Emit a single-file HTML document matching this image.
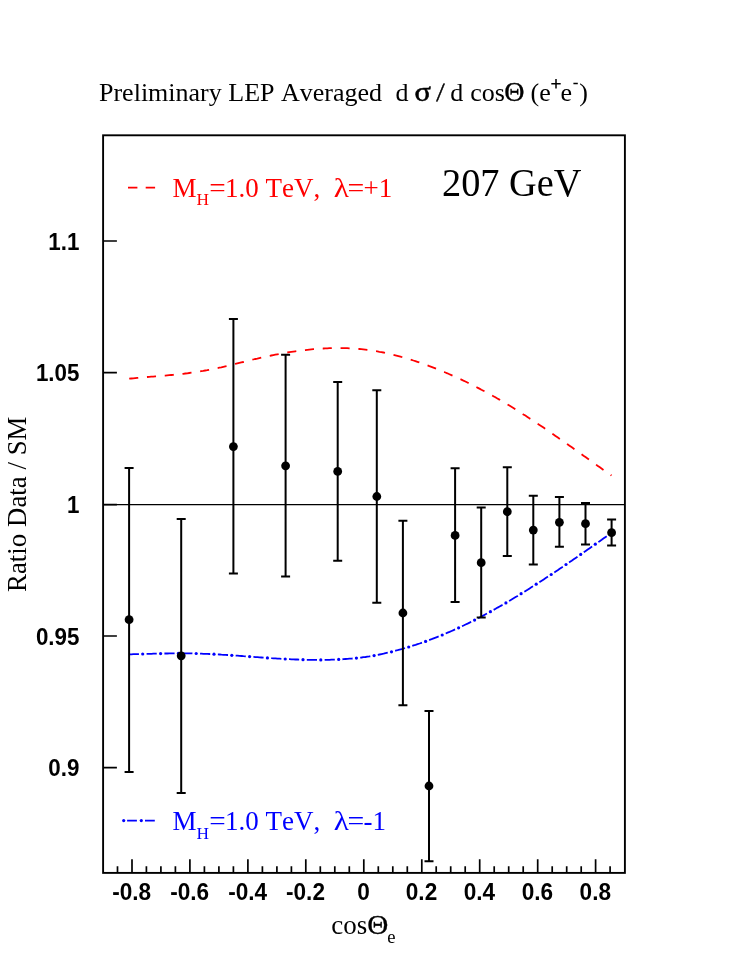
<!DOCTYPE html><html><head><meta charset="utf-8"><style>html,body{margin:0;padding:0;background:#fff}svg{display:block;will-change:transform}text{font-kerning:none}</style></head><body><svg width="741" height="959" viewBox="0 0 741 959">
<rect width="741" height="959" fill="#fff"/>
<rect x="103.1" y="135.3" width="521.8" height="737.6" fill="none" stroke="#000" stroke-width="1.9"/>
<path d="M117.5 872.9 v-6.7 M132.0 872.9 v-13.6 M146.4 872.9 v-6.7 M160.9 872.9 v-6.7 M175.4 872.9 v-6.7 M189.9 872.9 v-13.6 M204.4 872.9 v-6.7 M218.9 872.9 v-6.7 M233.4 872.9 v-6.7 M247.9 872.9 v-13.6 M262.4 872.9 v-6.7 M276.9 872.9 v-6.7 M291.4 872.9 v-6.7 M305.8 872.9 v-13.6 M320.3 872.9 v-6.7 M334.8 872.9 v-6.7 M349.3 872.9 v-6.7 M363.8 872.9 v-13.6 M378.3 872.9 v-6.7 M392.8 872.9 v-6.7 M407.3 872.9 v-6.7 M421.8 872.9 v-13.6 M436.2 872.9 v-6.7 M450.7 872.9 v-6.7 M465.2 872.9 v-6.7 M479.7 872.9 v-13.6 M494.2 872.9 v-6.7 M508.7 872.9 v-6.7 M523.2 872.9 v-6.7 M537.7 872.9 v-13.6 M552.2 872.9 v-6.7 M566.7 872.9 v-6.7 M581.2 872.9 v-6.7 M595.6 872.9 v-13.6 M610.1 872.9 v-6.7 M103.1 241.0 h13.8 M103.1 372.6 h13.8 M103.1 504.6 h13.8 M103.1 636.0 h13.8 M103.1 767.6 h13.8 " stroke="#000" stroke-width="1.7" fill="none"/>
<path d="M103.1 504.6 H624.9" stroke="#000" stroke-width="1.3"/>
<path d="M129.2 378.7 L131.2 378.5 L133.2 378.3 L135.2 378.1 L137.2 377.9 L139.2 377.7 L141.2 377.5 L143.2 377.4 L145.2 377.2 L147.2 377.0 L149.2 376.9 L151.2 376.7 L153.2 376.6 L155.2 376.4 L157.2 376.2 L159.2 376.1 L161.2 375.9 L163.2 375.7 L165.2 375.6 L167.2 375.4 L169.2 375.2 L171.2 375.0 L173.2 374.8 L175.2 374.6 L177.2 374.4 L179.2 374.2 L181.2 374.0 L183.2 373.8 L185.2 373.5 L187.2 373.3 L189.2 373.0 L191.2 372.7 L193.2 372.4 L195.2 372.2 L197.2 371.9 L199.2 371.5 L201.2 371.2 L203.2 370.9 L205.2 370.5 L207.2 370.2 L209.2 369.8 L211.3 369.4 L213.3 369.0 L215.3 368.6 L217.3 368.1 L219.3 367.7 L221.3 367.3 L223.3 366.8 L225.3 366.3 L227.3 365.9 L229.3 365.4 L231.3 364.9 L233.3 364.4 L235.3 363.9 L237.3 363.4 L239.3 362.9 L241.3 362.4 L243.3 362.0 L245.3 361.5 L247.3 361.0 L249.3 360.5 L251.3 360.0 L253.3 359.5 L255.3 359.0 L257.3 358.6 L259.3 358.1 L261.3 357.6 L263.3 357.2 L265.3 356.7 L267.3 356.3 L269.3 355.9 L271.3 355.5 L273.3 355.1 L275.3 354.7 L277.3 354.3 L279.3 353.9 L281.3 353.6 L283.3 353.2 L285.3 352.9 L287.3 352.5 L289.3 352.2 L291.3 351.9 L293.3 351.6 L295.3 351.3 L297.3 351.0 L299.3 350.8 L301.3 350.5 L303.3 350.3 L305.3 350.1 L307.3 349.8 L309.3 349.6 L311.3 349.4 L313.3 349.2 L315.3 349.1 L317.3 348.9 L319.3 348.8 L321.3 348.6 L323.3 348.5 L325.3 348.4 L327.3 348.3 L329.3 348.2 L331.3 348.2 L333.3 348.1 L335.3 348.1 L337.3 348.1 L339.3 348.1 L341.3 348.1 L343.3 348.1 L345.3 348.1 L347.3 348.2 L349.3 348.3 L351.3 348.4 L353.3 348.5 L355.3 348.6 L357.3 348.8 L359.3 349.0 L361.3 349.2 L363.3 349.4 L365.3 349.6 L367.3 349.9 L369.3 350.1 L371.4 350.4 L373.4 350.7 L375.4 351.1 L377.4 351.4 L379.4 351.8 L381.4 352.1 L383.4 352.5 L385.4 353.0 L387.4 353.4 L389.4 353.8 L391.4 354.3 L393.4 354.8 L395.4 355.3 L397.4 355.8 L399.4 356.3 L401.4 356.9 L403.4 357.4 L405.4 358.0 L407.4 358.6 L409.4 359.2 L411.4 359.8 L413.4 360.5 L415.4 361.1 L417.4 361.8 L419.4 362.5 L421.4 363.2 L423.4 363.9 L425.4 364.6 L427.4 365.3 L429.4 366.1 L431.4 366.8 L433.4 367.6 L435.4 368.4 L437.4 369.2 L439.4 370.0 L441.4 370.8 L443.4 371.6 L445.4 372.5 L447.4 373.3 L449.4 374.2 L451.4 375.1 L453.4 376.0 L455.4 376.9 L457.4 377.8 L459.4 378.7 L461.4 379.6 L463.4 380.6 L465.4 381.5 L467.4 382.5 L469.4 383.5 L471.4 384.5 L473.4 385.5 L475.4 386.5 L477.4 387.6 L479.4 388.6 L481.4 389.7 L483.4 390.7 L485.4 391.8 L487.4 392.9 L489.4 394.0 L491.4 395.1 L493.4 396.2 L495.4 397.3 L497.4 398.5 L499.4 399.6 L501.4 400.8 L503.4 402.0 L505.4 403.2 L507.4 404.4 L509.4 405.6 L511.4 406.8 L513.4 408.0 L515.4 409.3 L517.4 410.5 L519.4 411.8 L521.4 413.1 L523.4 414.4 L525.4 415.6 L527.4 416.9 L529.4 418.3 L531.5 419.6 L533.5 420.9 L535.5 422.2 L537.5 423.6 L539.5 424.9 L541.5 426.2 L543.5 427.6 L545.5 429.0 L547.5 430.3 L549.5 431.7 L551.5 433.1 L553.5 434.5 L555.5 435.9 L557.5 437.3 L559.5 438.7 L561.5 440.1 L563.5 441.5 L565.5 442.9 L567.5 444.3 L569.5 445.7 L571.5 447.1 L573.5 448.5 L575.5 450.0 L577.5 451.4 L579.5 452.8 L581.5 454.2 L583.5 455.7 L585.5 457.1 L587.5 458.5 L589.5 460.0 L591.5 461.4 L593.5 462.8 L595.5 464.2 L597.5 465.7 L599.5 467.1 L601.5 468.5 L603.5 469.9 L605.5 471.4 L607.5 472.8 L609.5 474.2 L611.5 475.6" fill="none" stroke="#f00" stroke-width="1.8" stroke-dasharray="9.1 8.74"/>
<path d="M129.4 654.3 L131.4 654.3 L133.4 654.2 L135.4 654.2 L137.4 654.1 L139.4 654.1 L141.4 654.0 L143.4 654.0 L145.4 653.9 L147.4 653.9 L149.4 653.8 L151.4 653.8 L153.4 653.7 L155.4 653.7 L157.4 653.6 L159.4 653.6 L161.4 653.6 L163.4 653.5 L165.4 653.5 L167.4 653.5 L169.4 653.4 L171.4 653.4 L173.4 653.4 L175.4 653.4 L177.4 653.4 L179.4 653.4 L181.4 653.4 L183.4 653.4 L185.4 653.4 L187.4 653.4 L189.4 653.4 L191.4 653.4 L193.4 653.5 L195.4 653.5 L197.4 653.6 L199.4 653.6 L201.4 653.7 L203.4 653.8 L205.4 653.8 L207.4 653.9 L209.4 654.0 L211.5 654.1 L213.5 654.2 L215.5 654.3 L217.5 654.4 L219.5 654.5 L221.5 654.7 L223.5 654.8 L225.5 654.9 L227.5 655.0 L229.5 655.2 L231.5 655.3 L233.5 655.5 L235.5 655.6 L237.5 655.7 L239.5 655.9 L241.5 656.0 L243.5 656.2 L245.5 656.3 L247.5 656.5 L249.5 656.6 L251.5 656.8 L253.5 656.9 L255.5 657.1 L257.5 657.2 L259.5 657.4 L261.5 657.5 L263.5 657.6 L265.5 657.8 L267.5 657.9 L269.5 658.0 L271.5 658.2 L273.5 658.3 L275.5 658.4 L277.5 658.6 L279.5 658.7 L281.5 658.8 L283.5 658.9 L285.5 659.0 L287.5 659.1 L289.5 659.2 L291.5 659.3 L293.5 659.4 L295.5 659.5 L297.5 659.5 L299.5 659.6 L301.5 659.7 L303.5 659.7 L305.5 659.8 L307.5 659.8 L309.5 659.9 L311.5 659.9 L313.5 659.9 L315.5 659.9 L317.5 659.9 L319.5 659.9 L321.5 659.9 L323.5 659.9 L325.5 659.9 L327.5 659.8 L329.5 659.8 L331.5 659.7 L333.5 659.7 L335.5 659.6 L337.5 659.5 L339.5 659.4 L341.5 659.3 L343.5 659.2 L345.5 659.0 L347.5 658.9 L349.5 658.7 L351.5 658.6 L353.5 658.4 L355.5 658.2 L357.5 658.0 L359.5 657.7 L361.5 657.5 L363.5 657.2 L365.5 657.0 L367.5 656.7 L369.5 656.4 L371.6 656.0 L373.6 655.7 L375.6 655.3 L377.6 654.9 L379.6 654.5 L381.6 654.1 L383.6 653.7 L385.6 653.2 L387.6 652.7 L389.6 652.2 L391.6 651.7 L393.6 651.2 L395.6 650.7 L397.6 650.2 L399.6 649.6 L401.6 649.1 L403.6 648.5 L405.6 647.9 L407.6 647.3 L409.6 646.7 L411.6 646.1 L413.6 645.4 L415.6 644.8 L417.6 644.1 L419.6 643.5 L421.6 642.8 L423.6 642.1 L425.6 641.4 L427.6 640.6 L429.6 639.9 L431.6 639.2 L433.6 638.4 L435.6 637.6 L437.6 636.8 L439.6 636.0 L441.6 635.2 L443.6 634.4 L445.6 633.6 L447.6 632.7 L449.6 631.9 L451.6 631.0 L453.6 630.1 L455.6 629.2 L457.6 628.3 L459.6 627.4 L461.6 626.4 L463.6 625.5 L465.6 624.5 L467.6 623.6 L469.6 622.6 L471.6 621.6 L473.6 620.6 L475.6 619.5 L477.6 618.5 L479.6 617.5 L481.6 616.4 L483.6 615.4 L485.6 614.3 L487.6 613.2 L489.6 612.1 L491.6 611.0 L493.6 609.9 L495.6 608.8 L497.6 607.6 L499.6 606.5 L501.6 605.4 L503.6 604.2 L505.6 603.0 L507.6 601.9 L509.6 600.7 L511.6 599.5 L513.6 598.3 L515.6 597.1 L517.6 595.9 L519.6 594.6 L521.6 593.4 L523.6 592.2 L525.6 590.9 L527.6 589.7 L529.6 588.4 L531.7 587.1 L533.7 585.9 L535.7 584.6 L537.7 583.3 L539.7 582.0 L541.7 580.7 L543.7 579.4 L545.7 578.1 L547.7 576.8 L549.7 575.5 L551.7 574.2 L553.7 572.8 L555.7 571.5 L557.7 570.2 L559.7 568.8 L561.7 567.5 L563.7 566.1 L565.7 564.8 L567.7 563.4 L569.7 562.0 L571.7 560.7 L573.7 559.3 L575.7 557.9 L577.7 556.5 L579.7 555.1 L581.7 553.8 L583.7 552.4 L585.7 551.0 L587.7 549.6 L589.7 548.2 L591.7 546.8 L593.7 545.4 L595.7 544.0 L597.7 542.6 L599.7 541.2 L601.7 539.8 L603.7 538.3 L605.7 536.9 L607.7 535.5 L609.7 534.1 L611.7 532.7" fill="none" stroke="#00f" stroke-width="1.8" stroke-dasharray="10.2 7.63" stroke-dashoffset="0.65"/>
<circle cx="142.7" cy="654.0" r="1.6" fill="#00f"/>
<circle cx="160.6" cy="653.6" r="1.6" fill="#00f"/>
<circle cx="178.4" cy="653.4" r="1.6" fill="#00f"/>
<circle cx="196.2" cy="653.5" r="1.6" fill="#00f"/>
<circle cx="214.0" cy="654.2" r="1.6" fill="#00f"/>
<circle cx="231.8" cy="655.3" r="1.6" fill="#00f"/>
<circle cx="249.6" cy="656.6" r="1.6" fill="#00f"/>
<circle cx="267.4" cy="657.9" r="1.6" fill="#00f"/>
<circle cx="285.2" cy="659.0" r="1.6" fill="#00f"/>
<circle cx="303.0" cy="659.7" r="1.6" fill="#00f"/>
<circle cx="320.8" cy="659.9" r="1.6" fill="#00f"/>
<circle cx="338.7" cy="659.4" r="1.6" fill="#00f"/>
<circle cx="356.4" cy="658.1" r="1.6" fill="#00f"/>
<circle cx="374.1" cy="655.6" r="1.6" fill="#00f"/>
<circle cx="391.5" cy="651.8" r="1.6" fill="#00f"/>
<circle cx="408.7" cy="647.0" r="1.6" fill="#00f"/>
<circle cx="425.6" cy="641.4" r="1.6" fill="#00f"/>
<circle cx="442.2" cy="635.0" r="1.6" fill="#00f"/>
<circle cx="458.6" cy="627.8" r="1.6" fill="#00f"/>
<circle cx="474.6" cy="620.1" r="1.6" fill="#00f"/>
<circle cx="490.4" cy="611.7" r="1.6" fill="#00f"/>
<circle cx="505.9" cy="602.9" r="1.6" fill="#00f"/>
<circle cx="521.1" cy="593.7" r="1.6" fill="#00f"/>
<circle cx="536.2" cy="584.2" r="1.6" fill="#00f"/>
<circle cx="551.2" cy="574.5" r="1.6" fill="#00f"/>
<circle cx="566.0" cy="564.5" r="1.6" fill="#00f"/>
<circle cx="580.7" cy="554.4" r="1.6" fill="#00f"/>
<circle cx="595.3" cy="544.2" r="1.6" fill="#00f"/>
<circle cx="609.9" cy="534.0" r="1.6" fill="#00f"/>
<path d="M129.1 467.9 V772.1 M124.6 467.9 h9 M124.6 772.1 h9 M181.2 518.9 V793.0 M176.7 518.9 h9 M176.7 793.0 h9 M233.4 319.0 V573.4 M228.9 319.0 h9 M228.9 573.4 h9 M285.6 354.8 V576.6 M281.1 354.8 h9 M281.1 576.6 h9 M337.7 382.0 V560.8 M333.2 382.0 h9 M333.2 560.8 h9 M376.8 390.3 V602.7 M372.3 390.3 h9 M372.3 602.7 h9 M402.9 520.8 V705.3 M398.4 520.8 h9 M398.4 705.3 h9 M429.0 710.9 V861.3 M424.5 710.9 h9 M424.5 861.3 h9 M455.1 468.3 V602.0 M450.6 468.3 h9 M450.6 602.0 h9 M481.2 507.6 V617.6 M476.7 507.6 h9 M476.7 617.6 h9 M507.3 467.2 V555.9 M502.8 467.2 h9 M502.8 555.9 h9 M533.3 495.8 V564.4 M528.8 495.8 h9 M528.8 564.4 h9 M559.4 497.0 V546.7 M554.9 497.0 h9 M554.9 546.7 h9 M585.5 502.9 V544.5 M581.0 502.9 h9 M581.0 544.5 h9 M611.6 519.5 V545.6 M607.1 519.5 h9 M607.1 545.6 h9 " stroke="#000" stroke-width="2" fill="none"/>
<circle cx="129.1" cy="619.7" r="4.4"/>
<circle cx="181.2" cy="655.8" r="4.4"/>
<circle cx="233.4" cy="446.6" r="4.4"/>
<circle cx="285.6" cy="465.8" r="4.4"/>
<circle cx="337.7" cy="471.4" r="4.4"/>
<circle cx="376.8" cy="496.5" r="4.4"/>
<circle cx="402.9" cy="613.0" r="4.4"/>
<circle cx="429.0" cy="786.0" r="4.4"/>
<circle cx="455.1" cy="535.4" r="4.4"/>
<circle cx="481.2" cy="562.7" r="4.4"/>
<circle cx="507.3" cy="511.7" r="4.4"/>
<circle cx="533.3" cy="530.1" r="4.4"/>
<circle cx="559.4" cy="522.3" r="4.4"/>
<circle cx="585.5" cy="523.7" r="4.4"/>
<circle cx="611.6" cy="532.7" r="4.4"/>
<path d="M128 187.7 h9.4 M145.7 187.7 h9.4" stroke="#f00" stroke-width="1.8"/>
<path d="M127.1 820.6 h9.8 M145 820.6 h9.8" stroke="#00f" stroke-width="1.8"/><circle cx="123.7" cy="820.6" r="1.6" fill="#00f"/><circle cx="141.3" cy="820.6" r="1.6" fill="#00f"/>
<g font-family="Liberation Serif, serif" font-size="27" fill="#f00" xml:space="preserve">
<text x="172.6" y="196.7">M</text>
<text x="196.4" y="205.3" font-size="17.3">H</text>
<text transform="translate(209.2 196.7) scale(1.08 1)">=</text>
<text x="225" y="196.7">1.0 TeV,</text>
<text transform="translate(333.8 196.7) scale(1.16 1)">λ</text>
<text transform="translate(347.6 196.7) scale(1.1 1)">=</text>
<text x="363.5" y="196.7">+1</text>
</g>
<g font-family="Liberation Serif, serif" font-size="27" fill="#00f" xml:space="preserve">
<text x="172.6" y="830.0">M</text>
<text x="196.4" y="838.6" font-size="17.3">H</text>
<text transform="translate(209.2 830.0) scale(1.08 1)">=</text>
<text x="225" y="830.0">1.0 TeV,</text>
<text transform="translate(333.8 830.0) scale(1.16 1)">λ</text>
<text transform="translate(347.6 830.0) scale(1.1 1)">=</text>
<text x="363.5" y="830.0">-1</text>
</g>
<text transform="translate(442 196.1) scale(0.988 1.015)" font-family="Liberation Serif, serif" font-size="38.8">207 GeV</text>
<g font-family="Liberation Serif, serif" font-size="26" xml:space="preserve">
<text x="99" y="100.5" font-size="26">Preliminary LEP Averaged</text>
<text x="395.5" y="100.5">d</text>
<text transform="translate(414.6 100.5) scale(1.17 1.06)" stroke="#000" stroke-width="0.5">σ</text>
<text transform="translate(436.3 100.5) skewX(-4)" stroke="#000" stroke-width="0.5">/</text>
<text x="450.2" y="100.5">d</text>
<text x="470.2" y="100.5">cos</text><text transform="translate(504.2 100.5) scale(1.06 1)" font-size="26.5" stroke="#000" stroke-width="0.3">Θ</text>
<text x="530.5" y="100.5">(e</text><text x="560.4" y="100.5">e</text><text x="579.2" y="100.5">)</text>
<path d="M551.3 83.8 h9.4 M556 79.1 v9.4 M573.4 83.5 h4.4" stroke="#000" stroke-width="1.5" fill="none"/>
</g>
<text x="331.3" y="934.2" font-family="Liberation Serif, serif" font-size="27">cos</text>
<text transform="translate(367.3 934.2) scale(1.07 1)" font-family="Liberation Serif, serif" font-size="27.3" stroke="#000" stroke-width="0.3">Θ</text>
<text x="387.2" y="942.7" font-family="Liberation Serif, serif" font-size="18.6">e</text>
<text transform="translate(25.8 592) rotate(-90)" font-family="Liberation Serif, serif" font-size="26.9">Ratio Data / SM</text>
<text transform="translate(79.4 249.5) scale(0.99 1.07)" text-anchor="end" font-family="Liberation Sans, sans-serif" font-weight="bold" font-size="22.6">1.1</text>
<text transform="translate(79.4 381.1) scale(0.99 1.07)" text-anchor="end" font-family="Liberation Sans, sans-serif" font-weight="bold" font-size="22.6">1.05</text>
<text transform="translate(79.4 512.8) scale(0.99 1.07)" text-anchor="end" font-family="Liberation Sans, sans-serif" font-weight="bold" font-size="22.6">1</text>
<text transform="translate(79.4 644.5) scale(0.99 1.07)" text-anchor="end" font-family="Liberation Sans, sans-serif" font-weight="bold" font-size="22.6">0.95</text>
<text transform="translate(79.4 776.1) scale(0.99 1.07)" text-anchor="end" font-family="Liberation Sans, sans-serif" font-weight="bold" font-size="22.6">0.9</text>
<text transform="translate(131.7 900) scale(1.0 1.07)" text-anchor="middle" font-family="Liberation Sans, sans-serif" font-weight="bold" font-size="22.6">-0.8</text>
<text transform="translate(189.6 900) scale(1.0 1.07)" text-anchor="middle" font-family="Liberation Sans, sans-serif" font-weight="bold" font-size="22.6">-0.6</text>
<text transform="translate(247.6 900) scale(1.0 1.07)" text-anchor="middle" font-family="Liberation Sans, sans-serif" font-weight="bold" font-size="22.6">-0.4</text>
<text transform="translate(305.5 900) scale(1.0 1.07)" text-anchor="middle" font-family="Liberation Sans, sans-serif" font-weight="bold" font-size="22.6">-0.2</text>
<text transform="translate(363.5 900) scale(1.0 1.07)" text-anchor="middle" font-family="Liberation Sans, sans-serif" font-weight="bold" font-size="22.6">0</text>
<text transform="translate(421.5 900) scale(1.0 1.07)" text-anchor="middle" font-family="Liberation Sans, sans-serif" font-weight="bold" font-size="22.6">0.2</text>
<text transform="translate(479.4 900) scale(1.0 1.07)" text-anchor="middle" font-family="Liberation Sans, sans-serif" font-weight="bold" font-size="22.6">0.4</text>
<text transform="translate(537.4 900) scale(1.0 1.07)" text-anchor="middle" font-family="Liberation Sans, sans-serif" font-weight="bold" font-size="22.6">0.6</text>
<text transform="translate(595.3 900) scale(1.0 1.07)" text-anchor="middle" font-family="Liberation Sans, sans-serif" font-weight="bold" font-size="22.6">0.8</text>
</svg></body></html>
